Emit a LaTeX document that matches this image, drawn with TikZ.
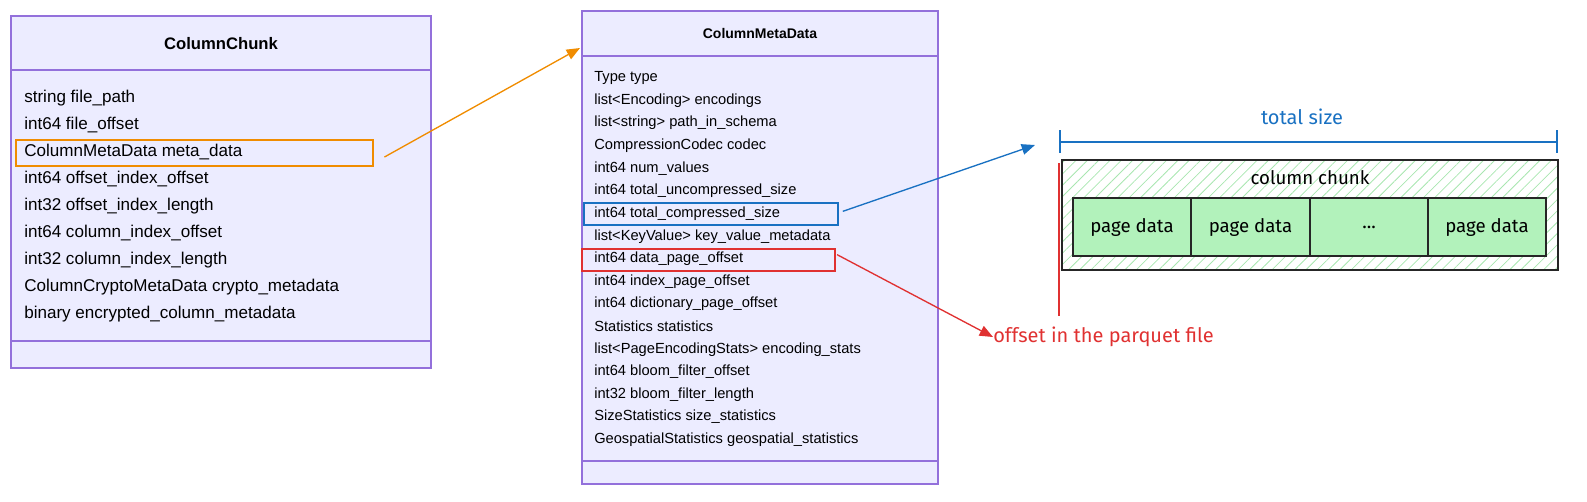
\documentclass[tikz,border=0pt]{standalone}
\usepackage{fontspec}
\setmainfont{Liberation Sans}
\newfontfamily\hand{Fira Sans}
\usetikzlibrary{patterns.meta,arrows.meta}
\definecolor{boxfill}{HTML}{ECECFF}
\definecolor{boxline}{HTML}{9370DB}
\definecolor{org}{HTML}{F08C00}
\definecolor{blu}{HTML}{1971C2}
\definecolor{rd}{HTML}{E03131}
\definecolor{pg}{HTML}{B2F2BB}
\definecolor{hatch}{HTML}{A8E6B0}
\tikzset{
 row/.style={anchor=west,inner sep=0,font=\fontsize{12.8}{14}\selectfont},
 mrow/.style={anchor=west,inner sep=0,font=\fontsize{11}{13}\selectfont},
 cls/.style={draw=boxline,fill=boxfill,line width=0.8pt},
 pagebox/.style={draw=black!85,fill=pg,line width=1pt,font=\hand\fontsize{14}{16}\selectfont},
 arr/.style={line width=1pt,-{Triangle[length=10pt,width=8pt]}}
}
\begin{document}
\begin{tikzpicture}[x=0.75pt,y=-0.75pt]
\useasboundingbox (0,0) rectangle (1587,501);
% left class
\draw[cls] (11,16) rectangle (431,368);
\draw[boxline,line width=0.8pt] (11,70) -- (431,70) (11,341) -- (431,341);
\node[font=\bfseries\fontsize{12.5}{14}\selectfont] (t1) at (221,44) {ColumnChunk};
\foreach \t [count=\i] in {string file\_path,int64 file\_offset,ColumnMetaData meta\_data,int64 offset\_index\_offset,int32 offset\_index\_length,int64 column\_index\_offset,int32 column\_index\_length,ColumnCryptoMetaData crypto\_metadata,binary encrypted\_column\_metadata}
  \node[row] (l\i) at (24,{71+27*\i}) {\t};
\node[draw=org,line width=1.2pt,minimum width=357*0.75pt,minimum height=26*0.75pt] (ob) at (194.5,153) {};
% middle class
\draw[cls] (582,11) rectangle (938,484);
\draw[boxline,line width=0.8pt] (582,56) -- (938,56) (582,461) -- (938,461);
\node[font=\bfseries\fontsize{10.5}{12}\selectfont] (t2) at (760,33) {ColumnMetaData};
\foreach \t [count=\i] in {Type type,list<Encoding> encodings,list<string> path\_in\_schema,CompressionCodec codec,int64 num\_values,int64 total\_uncompressed\_size,int64 total\_compressed\_size,list<KeyValue> key\_value\_metadata,int64 data\_page\_offset,int64 index\_page\_offset,int64 dictionary\_page\_offset,Statistics statistics,list<PageEncodingStats> encoding\_stats,int64 bloom\_filter\_offset,int32 bloom\_filter\_length,SizeStatistics size\_statistics,GeospatialStatistics geospatial\_statistics}
  \node[mrow] (m\i) at (594,{55.4+22.6*\i}) {\t};
\node[draw=blu,line width=1.2pt,minimum width=254*0.75pt,minimum height=22*0.75pt] (bb) at (711,214) {};
\node[draw=rd,line width=1.2pt,minimum width=253*0.75pt,minimum height=22*0.75pt] (rb) at (708.5,260) {};
% right diagram
\node[draw=black!85,line width=1.2pt,pattern={Lines[angle=45,distance=6pt,line width=0.6pt]},pattern color=hatch,minimum width=496*0.75pt,minimum height=110*0.75pt] (cc) at (1310,215) {};
\node[font=\hand\fontsize{14}{16}\selectfont] (cct) at (1310,178) {column chunk};
\node[pagebox,minimum width=118*0.75pt,minimum height=58*0.75pt] (p1) at (1132,227) {page data};
\node[pagebox,minimum width=119*0.75pt,minimum height=58*0.75pt] (p2) at (1250.5,227) {page data};
\node[pagebox,minimum width=118*0.75pt,minimum height=58*0.75pt] (p3) at (1369,227) {...};
\node[pagebox,minimum width=118*0.75pt,minimum height=58*0.75pt] (p4) at (1487,227) {page data};
\coordinate (tl) at (1060,142); \coordinate (tr) at (1557,142);
\draw[blu,line width=1.4pt] (tl) -- (tr) (1060,130) -- (1060,153) (1557,130) -- (1557,153);
\node[blu,font=\hand\fontsize{15}{17}\selectfont] (ts) at (1302,117) {total size};
\coordinate (ot) at (1059,163); \coordinate (ob2) at (1059,316);
\draw[rd,line width=1.6pt] (ot) -- (ob2);
\node[rd,font=\hand\fontsize{15}{17}\selectfont,anchor=west,inner sep=0] (off) at (993,337) {offset in the parquet file};
% arrows
\coordinate (oa) at (580,48); \coordinate (ba) at (1035,145);
\draw[arr,org] (ob.east) ++(8pt,-3pt) coordinate (os) (os) -- (oa);
\draw[arr,blu] (bb.east) ++(3pt,2pt) coordinate (bs) (bs) -- (ba);
\draw[arr,rd] (rb.east) ++(1pt,4pt) coordinate (rs) (rs) -- (off.west);
\end{tikzpicture}
\end{document}
